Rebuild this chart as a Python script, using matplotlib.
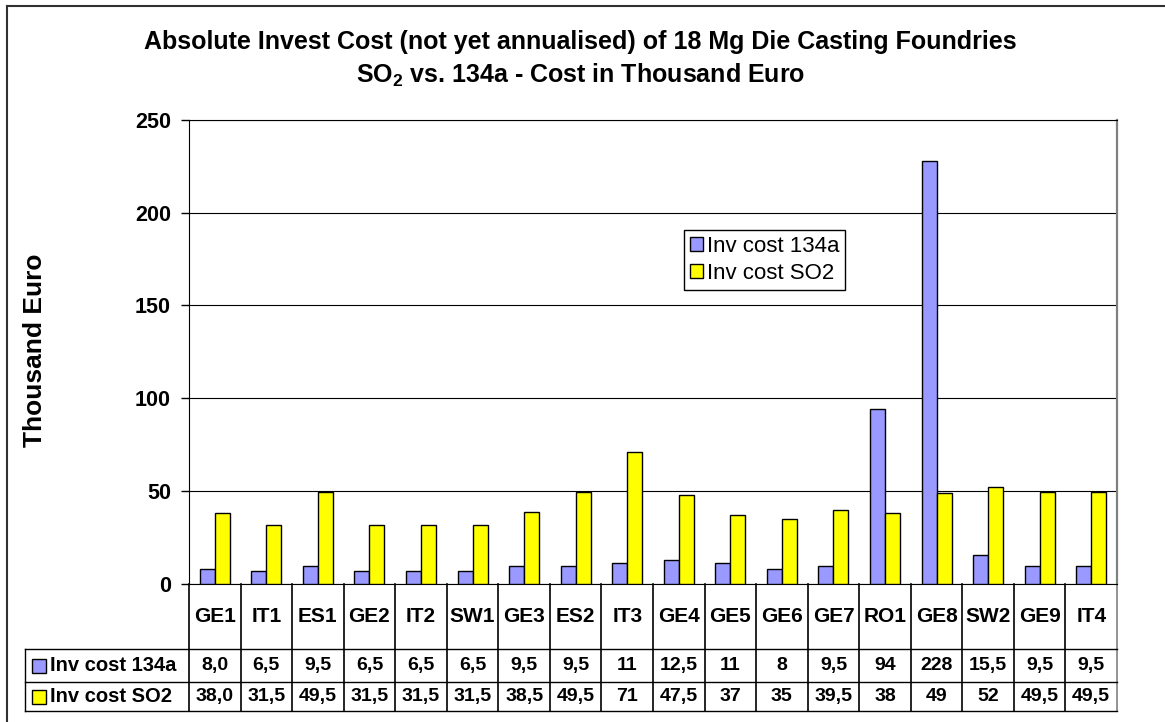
import matplotlib.pyplot as plt
from matplotlib.lines import Line2D
from matplotlib.patches import Patch, Rectangle
import numpy as np

plt.rcParams['font.family'] = ['Liberation Sans', 'DejaVu Sans']
plt.rcParams['mathtext.fontset'] = 'custom'
plt.rcParams['mathtext.rm'] = 'Liberation Sans'
plt.rcParams['mathtext.bf'] = 'Liberation Sans:bold'

# donnees (milliers d'euros)
sites = ['GE1', 'IT1', 'ES1', 'GE2', 'IT2', 'SW1', 'GE3', 'ES2', 'IT3',
         'GE4', 'GE5', 'GE6', 'GE7', 'RO1', 'GE8', 'SW2', 'GE9', 'IT4']
cout_134a = [8.0, 6.5, 9.5, 6.5, 6.5, 6.5, 9.5, 9.5, 11,
             12.5, 11, 8, 9.5, 94, 228, 15.5, 9.5, 9.5]
cout_so2 = [38.0, 31.5, 49.5, 31.5, 31.5, 31.5, 38.5, 49.5, 71,
            47.5, 37, 35, 39.5, 38, 49, 52, 49.5, 49.5]
# textes du tableau tels qu'affiches
txt_134a = ['8,0', '6,5', '9,5', '6,5', '6,5', '6,5', '9,5', '9,5', '11',
            '12,5', '11', '8', '9,5', '94', '228', '15,5', '9,5', '9,5']
txt_so2 = ['38,0', '31,5', '49,5', '31,5', '31,5', '31,5', '38,5', '49,5', '71',
           '47,5', '37', '35', '39,5', '38', '49', '52', '49,5', '49,5']
series = ['Inv cost 134a', 'Inv cost SO2']
couleurs = ['#9999FF', '#FFFF00']

W, H = 1165, 722
fig = plt.figure(figsize=(W / 100, H / 100), dpi=100)
# zone de trace en pixels : x 189..1117, y 120..583.5
x0, x1, ytop, ybot = 189, 1117, 120, 583.5
ax = fig.add_axes([x0 / W, 1 - ybot / H, (x1 - x0) / W, (ybot - ytop) / H])

n = len(sites)
x = np.arange(n)
larg = 0.29
ax.bar(x - larg / 2, cout_134a, larg, color=couleurs[0], edgecolor='black', linewidth=1, zorder=3)
ax.bar(x + larg / 2, cout_so2, larg, color=couleurs[1], edgecolor='black', linewidth=1, zorder=3)

ax.set_xlim(-0.5, n - 0.5)
ax.set_ylim(0, 250)
ax.set_yticks(np.arange(0, 251, 50))
ax.set_xticks([])
ax.tick_params(axis='y', direction='out', length=6, width=1, pad=7, labelsize=15.5)
for lab in ax.get_yticklabels():
    lab.set_fontweight('bold')
ax.grid(axis='y', color='black', linewidth=0.8, zorder=0)
ax.spines['left'].set_color('black')
ax.spines['bottom'].set_color('black')
ax.spines['top'].set_color('black')
ax.spines['right'].set_color('#808080')
ax.spines['right'].set_linewidth(1.6)

# tableau de donnees sous l'axe
ph = ybot - ytop
pw = x1 - x0
h0 = -(649 - ybot) / ph
h1 = -(682 - ybot) / ph
h2 = -(711 - ybot) / ph
xl = -(x0 - 25) / pw
tr = ax.transAxes
kw = dict(transform=tr, clip_on=False, color='black', linewidth=1)
for k in range(n + 1):
    c = '#808080' if k == n else 'black'
    ax.add_line(Line2D([k / n, k / n], [0, h2], transform=tr, clip_on=False, color=c, linewidth=1.2))
for yy in (h0, h1, h2):
    ax.add_line(Line2D([xl, 1], [yy, yy], **kw))
ax.add_line(Line2D([xl, xl], [h0, h2], **kw))

for i in range(n):
    cx = (i + 0.5) / n
    ax.text(cx, h0 / 2, sites[i], transform=tr, ha='center', va='center',
            fontsize=15, fontweight='bold')
    ax.text(cx, (h0 + h1) / 2, txt_134a[i], transform=tr, ha='center', va='center',
            fontsize=14, fontweight='bold')
    ax.text(cx, (h1 + h2) / 2, txt_so2[i], transform=tr, ha='center', va='center',
            fontsize=14, fontweight='bold')

for j, (yc, nom) in enumerate([((h0 + h1) / 2, series[0]), ((h1 + h2) / 2, series[1])]):
    sw = 14 / pw
    sh = 14 / ph
    ax.add_patch(Rectangle((-(x0 - 32) / pw, yc - sh / 2), sw, sh, transform=tr, clip_on=False,
                           facecolor=couleurs[j], edgecolor='black', linewidth=1))
    ax.text(-(x0 - 50) / pw, yc, nom, transform=tr, ha='left', va='center',
            fontsize=14.5, fontweight='bold')

# legende
poignees = [Patch(facecolor=couleurs[0], edgecolor='black', label=series[0]),
            Patch(facecolor=couleurs[1], edgecolor='black', label=series[1])]
leg = ax.legend(handles=poignees, loc='upper left', bbox_to_anchor=((684 - x0) / pw, (ybot - 230) / ph),
                fontsize=16, frameon=True, fancybox=False, framealpha=1, edgecolor='black',
                handlelength=0.6, handleheight=0.6, handletextpad=0.2, borderpad=0.25,
                labelspacing=0.3, borderaxespad=0)
leg.get_frame().set_linewidth(1)

# titres
fig.text(0.498, 1 - 42 / H, 'Absolute Invest Cost (not yet annualised) of 18 Mg Die Casting Foundries',
         ha='center', va='center', fontsize=18, fontweight='bold')
fig.text(0.498, 1 - 75 / H, r'SO$_\mathbf{2}$ vs. 134a - Cost in Thousand Euro',
         ha='center', va='center', fontsize=18, fontweight='bold')
fig.text(35 / W, 1 - 350 / H, 'Thousand Euro', rotation=90, ha='center', va='center',
         fontsize=19, fontweight='bold')

# cadre du graphique
fig.add_artist(Line2D([7 / W, 7 / W], [0, 1 - 6 / H], transform=fig.transFigure, color='#303030', linewidth=1.5))
fig.add_artist(Line2D([7 / W, 1], [1 - 6 / H, 1 - 6 / H], transform=fig.transFigure, color='#303030', linewidth=1.5))

fig.savefig('out.png', dpi=100)
